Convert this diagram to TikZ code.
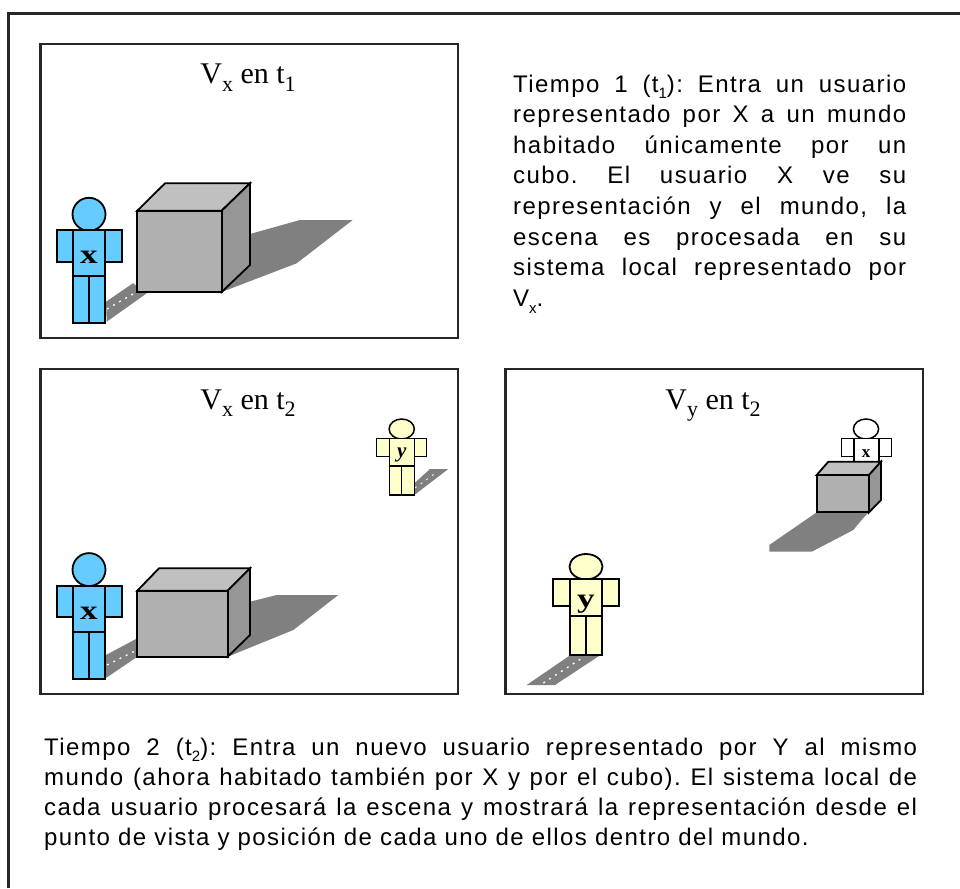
\documentclass[tikz,border=0pt]{standalone}
\usepackage{graphicx}
\usepackage{fontspec}
\setmainfont{Liberation Serif}
\newfontfamily\bodyfont[LetterSpace=6]{Liberation Sans}
\definecolor{fblue}{HTML}{66CCFF}
\definecolor{fyellow}{HTML}{FFFFCC}
\definecolor{shade}{HTML}{808080}
\definecolor{cfront}{HTML}{B0B0B0}
\definecolor{ctop}{HTML}{C0C0C0}
\definecolor{cside}{HTML}{969696}
\tikzset{
  x=1pt,y=-1pt,
  frameline/.style={draw=black!85,line width=2.4pt},
  fig/.style={draw=black,line width=1.8pt,line join=miter},
  smallfig/.style={draw=black,line width=1.5pt,line join=miter},
  shadowpoly/.style={fill=shade,draw=none},
  dots/.style={draw=white,line width=1.3pt,dash pattern=on 2pt off 5pt},
  titletext/.style={font=\fontsize{30}{32}\selectfont,anchor=base,inner sep=0pt},
  bodytext/.style={font=\frenchspacing\bodyfont\fontsize{24}{30.6}\selectfont,anchor=north west,inner sep=0pt,align=justify},
  bodytextb/.style={font=\frenchspacing\bodyfont\fontsize{24}{30}\selectfont,anchor=north west,inner sep=0pt,align=justify},
  biglabel/.style={font=\fontsize{27}{27}\selectfont\bfseries,inner sep=0pt,anchor=base},
}
\newcommand{\tsub}[1]{\raisebox{-0.26em}{\fontsize{22}{22}\selectfont #1}}
\newcommand{\bsub}[1]{\raisebox{-0.28em}{\fontsize{15}{15}\selectfont #1}}
\newcommand{\wide}[1]{\scalebox{1.3}[1]{#1}}
\begin{document}
\begin{tikzpicture}
\useasboundingbox (0,0) rectangle (960,888);
\fill[white] (0,0) rectangle (960,888);
% outer frame, running off the page
\draw[frameline] (8.5,888) -- (8.5,13.5) -- (960,13.5);
% panels
\draw[frameline] (40.5,44) rectangle (458,338);
\draw[frameline] (40.5,369) rectangle (458,694);
\draw[frameline] (505.5,369) rectangle (923,694);

% ---- panel 1 ----
\node[titletext] (t1) at (248,84) {V\tsub{x} en t\tsub{1}};
\fill[shadowpoly] (250,234) -- (300,220) -- (352.7,220) -- (296.7,263.3) -- (221.7,292) -- cycle;
\fill[shadowpoly] (106,301.7) -- (133,283.3) -- (146.7,293.3) -- (106.7,321.7) -- cycle;
\draw[dots] (107,309) -- (137,291.7);
\draw[fig,fill=ctop] (137.3,210.7) -- (165,183.3) -- (250,183.3) -- (221.7,210.7) -- cycle;
\draw[fig,fill=cside] (221.7,210.7) -- (250,183.3) -- (250,265) -- (221.7,292) -- cycle;
\draw[fig,fill=cfront] (137.3,210.7) rectangle (221.7,292);
\draw[fig,fill=fblue] (89,214.3) ellipse [x radius=16.5,y radius=16.5];
\draw[fig,fill=fblue] (56.7,230) rectangle (73.3,261.7);
\draw[fig,fill=fblue] (105,230) rectangle (121.7,261.7);
\draw[fig,fill=fblue] (73.3,230) rectangle (105,276);
\draw[fig,fill=fblue] (73.3,276) rectangle (89,323);
\draw[fig,fill=fblue] (89,276) rectangle (105,323);
\node[biglabel] (lx1) at (89,263) {\wide{x}};

% ---- panel 2 ----
\node[titletext] (t2) at (248,409) {V\tsub{x} en t\tsub{2}};
\fill[shadowpoly] (250,601.7) -- (276.7,595) -- (338.3,595) -- (293.3,630) -- (227.7,656.7) -- cycle;
\fill[shadowpoly] (106,655) -- (137.3,638.3) -- (137.3,656.7) -- (106,678) -- cycle;
\draw[dots] (107,665) -- (137,650);
\draw[fig,fill=ctop] (137.3,590.7) -- (159,568.3) -- (250,568.3) -- (227.7,590.7) -- cycle;
\draw[fig,fill=cside] (227.7,590.7) -- (250,568.3) -- (250,635) -- (227.7,656.7) -- cycle;
\draw[fig,fill=cfront] (137.3,590.7) rectangle (227.7,656.7);
\draw[fig,fill=fblue] (89,569.6) ellipse [x radius=16.5,y radius=16.5];
\draw[fig,fill=fblue] (56.7,585.7) rectangle (73.3,617.3);
\draw[fig,fill=fblue] (105,585.7) rectangle (121.7,617.3);
\draw[fig,fill=fblue] (73.3,585.7) rectangle (105,632);
\draw[fig,fill=fblue] (73.3,632) rectangle (89,678.7);
\draw[fig,fill=fblue] (89,632) rectangle (105,678.7);
\node[biglabel] (lx2) at (89,619) {\wide{x}};
% small y
\fill[shadowpoly] (414.3,483.3) -- (430,469) -- (448.3,469) -- (414.3,495) -- cycle;
\draw[dots,line width=.8pt] (415,488) -- (437,472);
\draw[smallfig,fill=fyellow] (401.7,429) ellipse [x radius=12.6,y radius=10];
\draw[smallfig,fill=fyellow] (376.7,438.3) rectangle (389.3,456.7);
\draw[smallfig,fill=fyellow] (414.3,438.3) rectangle (426.7,456.7);
\draw[smallfig,fill=fyellow] (389.3,438.3) rectangle (414.3,466);
\draw[smallfig,fill=fyellow] (389.3,466) rectangle (401.7,495);
\draw[smallfig,fill=fyellow] (401.7,466) rectangle (414.3,495);
\node[font=\fontsize{21}{21}\selectfont\bfseries\itshape,inner sep=0pt,anchor=base] (ly1) at (401.7,457) {y};

% ---- panel 3 ----
\node[titletext] (t3) at (713,409) {V\tsub{y} en t\tsub{2}};
\draw[smallfig,fill=white] (866,429) ellipse [x radius=12.6,y radius=10];
\draw[smallfig,fill=white] (841.7,438.3) rectangle (854,456.7);
\draw[smallfig,fill=white] (879,438.3) rectangle (891.7,456.7);
\draw[smallfig,fill=white] (854,438.3) rectangle (879,466);
\node[font=\fontsize{17}{17}\selectfont\bfseries,inner sep=0pt,anchor=base] (lx3) at (866,457) {x};
\fill[shadowpoly] (816.7,512.3) -- (869,512.3) -- (865,516) -- (853.3,530) -- (811.7,551.7) -- (769.3,551.7) -- (769.3,545) -- cycle;
\draw[fig,fill=ctop] (816.7,475) -- (828.3,461.7) -- (881,461.7) -- (869,475) -- cycle;
\draw[fig,fill=cside] (869,475) -- (881,461.7) -- (881,500) -- (869,512.3) -- cycle;
\draw[fig,fill=cfront] (816.7,475) rectangle (869,512.3);
\fill[shadowpoly] (570,655.3) -- (600,655.3) -- (555,685) -- (526.7,685) -- cycle;
\draw[dots] (543.3,683) -- (581.7,658.3);
\draw[fig,fill=fyellow] (586,566.7) ellipse [x radius=16.5,y radius=12.7];
\draw[fig,fill=fyellow] (553.3,579.3) rectangle (570,606);
\draw[fig,fill=fyellow] (602.3,579.3) rectangle (619,606);
\draw[fig,fill=fyellow] (570,579.3) rectangle (602.3,616);
\draw[fig,fill=fyellow] (570,616) rectangle (586,655.3);
\draw[fig,fill=fyellow] (586,616) rectangle (602.3,655.3);
\node[biglabel] (ly2) at (586,607) {\wide{y}};

% ---- texts ----
\node[bodytext,text width=393] (body1) at (513,74.5) {%
Tiempo 1 (t\bsub{1}): Entra un usuario\linebreak
representado por X a un mundo\linebreak
habitado únicamente por un\linebreak
cubo. El usuario X ve su\linebreak
representación y el mundo, la\linebreak
escena es procesada en su\linebreak
sistema local representado por\linebreak
V\bsub{x}.};
\node[bodytextb,text width=873] (body2) at (44,737.5) {%
Tiempo 2 (t\bsub{2}): Entra un nuevo usuario representado por Y al mismo\linebreak
mundo (ahora habitado también por X y por el cubo). El sistema local de\linebreak
cada usuario procesará la escena y mostrará la representación desde el\linebreak
punto de vista y posición de cada uno de ellos dentro del mundo.};
\end{tikzpicture}
\end{document}
